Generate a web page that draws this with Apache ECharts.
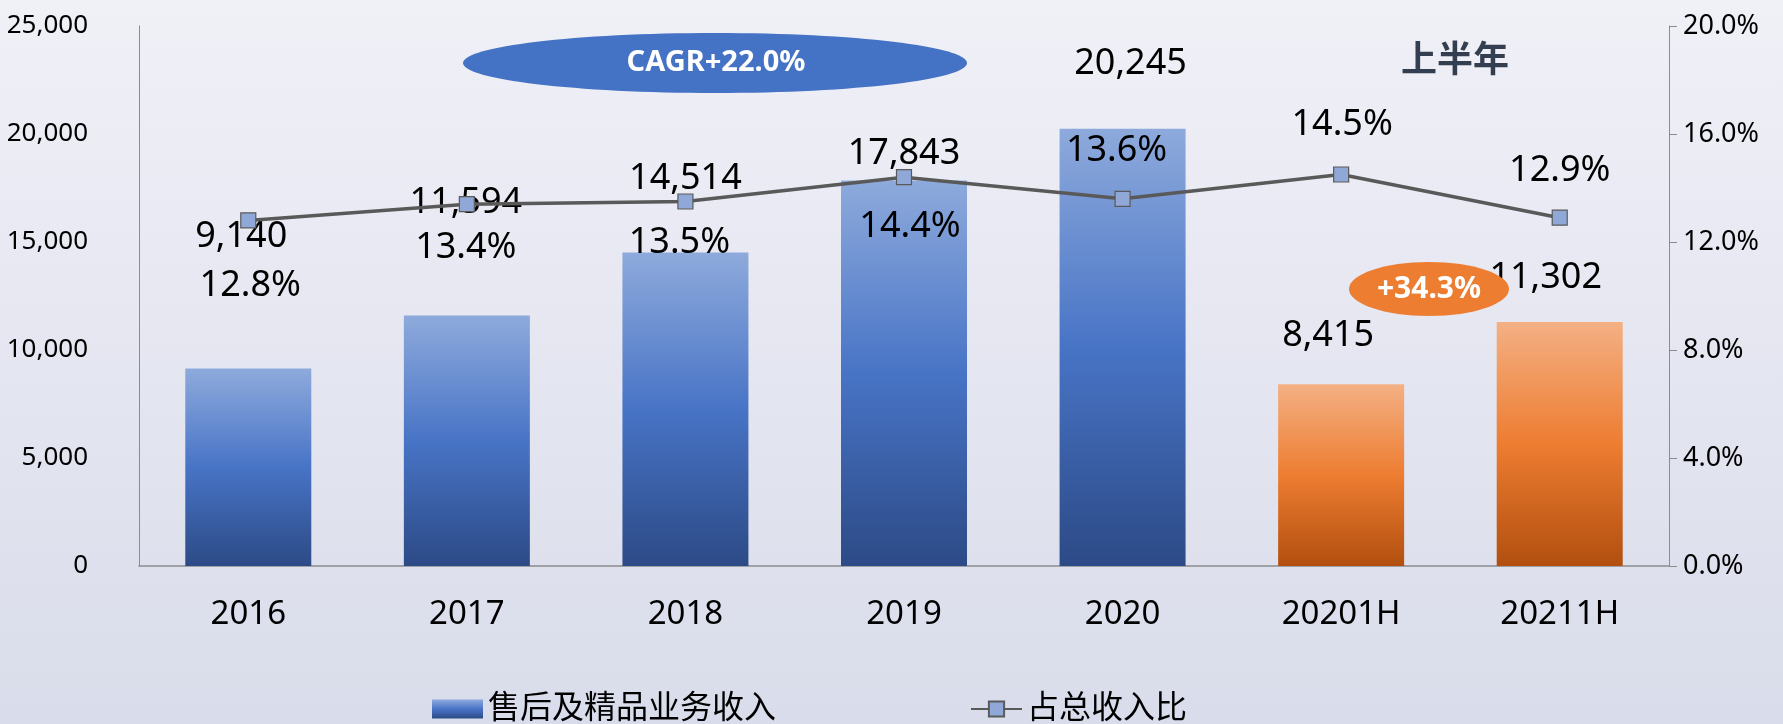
<!DOCTYPE html>
<html>
<head>
<meta charset="utf-8">
<script src="https://cdn.jsdelivr.net/npm/echarts@6/dist/echarts.min.js"></script>
<style>
  html, body { margin: 0; padding: 0; }
  #chart { width: 1783px; height: 724px; }
</style>
</head>
<body>
<div id="chart"></div>
<script>
// ---- data ----
const categories = ['2016', '2017', '2018', '2019', '2020', '20201H', '20211H'];
const revenue = [9140, 11594, 14514, 17843, 20245, 8415, 11302];
const ratio = [12.8, 13.4, 13.5, 14.4, 13.6, 14.5, 12.9];
const halfYearFlags = [false, false, false, false, false, true, true];
const seriesNames = ['售后及精品业务收入', '占总收入比'];
const annotationTexts = { cagr: 'CAGR+22.0%', growth: '+34.3%', half: '上半年' };

// ---- styling (label nudges, not data) ----
const barLabelNudge = [[-7, -114], [-1, -95], [0, -56], [0, -9], [8, -47], [-13, -30], [-14, -26]];
const lineLabelNudge = [[2, 65], [-1, 44], [-6, 41], [6, 50], [-6, -48], [1, -50], [0, -47]];

const FONT = '"Noto Sans", "Noto Sans CJK SC", sans-serif';
const blueGrad = new echarts.graphic.LinearGradient(0, 0, 0, 1, [
  { offset: 0, color: '#8EAADC' },
  { offset: 0.5, color: '#4874C6' },
  { offset: 1, color: '#2C4A86' }
]);
const orangeGrad = new echarts.graphic.LinearGradient(0, 0, 0, 1, [
  { offset: 0, color: '#F4B084' },
  { offset: 0.5, color: '#ED7D31' },
  { offset: 1, color: '#B24F0F' }
]);

const chart = echarts.init(document.getElementById('chart'));
const option = {
  backgroundColor: new echarts.graphic.LinearGradient(0, 0, 0, 1, [
    { offset: 0, color: '#F0F0F7' },
    { offset: 1, color: '#D9DCEA' }
  ]),
  textStyle: { fontFamily: FONT },
  animation: false,
  grid: { left: 139, right: 114, top: 26, bottom: 158, containLabel: false },
  legend: {
    left: 427, top: 688,
    itemWidth: 51, itemHeight: 19, itemGap: 194,
    textStyle: { fontSize: 32, color: '#000', fontFamily: FONT },
    data: [
      { name: seriesNames[0], icon: 'rect', itemStyle: { color: blueGrad } },
      { name: seriesNames[1] }
    ]
  },
  xAxis: {
    type: 'category',
    data: categories,
    axisLine: { lineStyle: { color: '#8C8C8C', width: 1.5 } },
    axisTick: { show: false },
    axisLabel: { fontSize: 33, color: '#000', margin: 32, fontFamily: FONT }
  },
  yAxis: [
    {
      type: 'value', min: 0, max: 25000, interval: 5000,
      axisLine: { show: true, lineStyle: { color: '#8C8C8C', width: 1 } },
      axisTick: { show: false },
      splitLine: { show: false },
      axisLabel: {
        fontSize: 26, color: '#000', margin: 51, fontFamily: FONT,
        formatter: v => v.toLocaleString('en-US')
      }
    },
    {
      type: 'value', min: 0, max: 20, interval: 4, position: 'right',
      axisLine: { show: true, lineStyle: { color: '#8C8C8C', width: 1 } },
      axisTick: { show: true, inside: false, length: 8, lineStyle: { color: '#8C8C8C' } },
      splitLine: { show: false },
      axisLabel: {
        fontSize: 27, color: '#000', margin: 14, fontFamily: FONT,
        formatter: v => v.toFixed(1) + '%'
      }
    }
  ],
  series: [
    {
      name: seriesNames[0],
      type: 'bar',
      barWidth: 126,
      itemStyle: { color: blueGrad },
      data: revenue.map((v, i) => ({
        value: v,
        itemStyle: { color: halfYearFlags[i] ? orangeGrad : blueGrad },
        label: { offset: barLabelNudge[i] }
      })),
      label: {
        show: true, position: 'top', distance: 0,
        fontSize: 36, color: '#000', fontFamily: FONT,
        formatter: p => p.value.toLocaleString('en-US')
      },
      z: 2
    },
    {
      name: seriesNames[1],
      type: 'line',
      yAxisIndex: 1,
      symbol: 'rect',
      symbolSize: 15,
      lineStyle: { color: '#595959', width: 3.5 },
      itemStyle: { color: '#8FA8D8', borderColor: '#5A5A5A', borderWidth: 1.2 },
      data: ratio.map((v, i) => ({ value: v, label: { offset: lineLabelNudge[i] } })),
      label: {
        show: true, position: 'inside',
        fontSize: 36, color: '#000', fontFamily: FONT,
        formatter: p => p.value.toFixed(1) + '%'
      },
      z: 3
    }
  ],
  graphic: [
    {
      type: 'ellipse', shape: { cx: 715, cy: 63, rx: 252, ry: 30 },
      style: { fill: '#4472C4' }, z: 10
    },
    {
      type: 'text', x: 716, y: 63,
      style: { text: annotationTexts.cagr, fill: '#fff', font: 'bold 29px ' + FONT, align: 'center', verticalAlign: 'middle' },
      z: 11
    },
    {
      type: 'ellipse', shape: { cx: 1429, cy: 289, rx: 80, ry: 27 },
      style: { fill: '#ED7D31' }, z: 10
    },
    {
      type: 'text', x: 1429, y: 289,
      style: { text: annotationTexts.growth, fill: '#fff', font: 'bold 30px ' + FONT, align: 'center', verticalAlign: 'middle' },
      z: 11
    },
    {
      type: 'text', x: 1455, y: 62,
      style: { text: annotationTexts.half, fill: '#333F50', font: 'bold 36px ' + FONT, align: 'center', verticalAlign: 'middle' },
      z: 11
    }
  ]
};
chart.setOption(option);
</script>
</body>
</html>
